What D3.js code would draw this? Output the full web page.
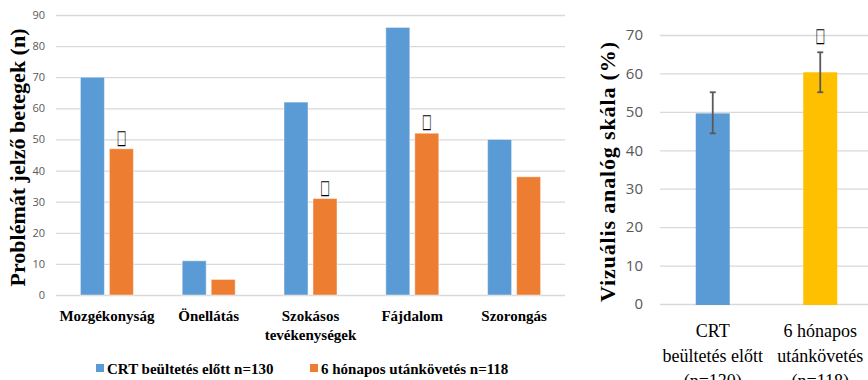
<!DOCTYPE html>
<html>
<head>
<meta charset="utf-8">
<script src="https://cdn.jsdelivr.net/npm/d3@7"></script>
<style>
  html, body { margin: 0; padding: 0; background: #fff; }
  svg { display: block; }
</style>
</head>
<body>
<svg id="chart" width="868" height="380"></svg>
<script>
// EQ-5D dimensions: patients reporting a problem, before CRT and at 6-month follow-up
const categories = ["Mozgékonyság", "Önellátás", "Szokásos\ntevékenységek", "Fájdalom", "Szorongás"];
const beforeCounts = [70, 11, 62, 86, 50];
const afterCounts = [47, 5, 31, 52, 38];
const significantChange = [true, false, true, true, false];
const countTicks = [0, 10, 20, 30, 40, 50, 60, 70, 80, 90];
const seriesNames = ["CRT beültetés előtt n=130", "6 hónapos utánkövetés n=118"];

// Visual analogue scale (mean with error bars)
const vasGroups = ["CRT\nbeültetés előtt\n(n=130)", "6 hónapos\nutánkövetés\n(n=118)"];
const vasMeans = [49.6, 60.3];
const vasLow = [44.4, 55.1];
const vasHigh = [55.1, 65.5];
const vasSignificant = [false, true];
const vasTicks = [0, 10, 20, 30, 40, 50, 60, 70];

const blue = "#5b9bd5", orange = "#ed7d31", yellow = "#ffc000";
const gridColor = "#d9d9d9", tickColor = "#595959";
const serif = "Liberation Serif, Times New Roman, DejaVu Serif, serif";
const sans = "Open Sans, Liberation Sans, sans-serif";
const marker = "\u25A1";

const svg = d3.select("#chart");

// significance marker: a hollow box glyph stretched into a tall rectangle
function drawMarker(parent, x, baseline) {
  parent.append("text")
    .attr("transform", `translate(${x},${baseline}) scale(0.72,1.4)`)
    .attr("text-anchor", "middle")
    .attr("font-family", "DejaVu Sans, sans-serif").attr("font-size", 14)
    .attr("fill", "#000")
    .text(marker);
}

// ---------- left panel: grouped bars ----------
const yL = d3.scaleLinear().domain([0, 90]).range([295, 15]);
const xL = d3.scaleBand().domain(categories).range([56, 565]);
const xSub = d3.scaleBand().domain([0, 1]).range([-26.5, 26.5]).paddingInner(0.172);

const gAxisL = svg.append("g").attr("transform", "translate(56,0)")
  .call(d3.axisLeft(yL).tickValues(countTicks).tickSize(-509).tickPadding(11));
gAxisL.select(".domain").remove();
gAxisL.selectAll(".tick line").attr("stroke", gridColor).attr("stroke-width", 1.3);
gAxisL.selectAll(".tick text").attr("fill", tickColor)
  .attr("font-family", sans).attr("font-size", 11);

const seriesL = [beforeCounts, afterCounts];
const colorsL = [blue, orange];
seriesL.forEach((vals, s) => {
  svg.append("g").selectAll("rect").data(categories).join("rect")
    .attr("x", (c) => xL(c) + xL.bandwidth() / 2 + xSub(s))
    .attr("y", (c, i) => yL(vals[i]))
    .attr("width", xSub.bandwidth())
    .attr("height", (c, i) => yL(0) - yL(vals[i]))
    .attr("fill", colorsL[s])
    .attr("stroke", "rgba(255,255,255,0.45)")
    .attr("stroke-width", 1);
});

const markersL = svg.append("g");
categories.forEach((c, i) => {
  if (!significantChange[i]) return;
  drawMarker(markersL, xL(c) + xL.bandwidth() / 2 + xSub(1) + xSub.bandwidth() / 2, yL(afterCounts[i]) - 5);
});

// category labels
const catLabels = svg.append("g").selectAll("text").data(categories).join("text")
  .attr("x", (c) => xL(c) + xL.bandwidth() / 2)
  .attr("y", 321)
  .attr("text-anchor", "middle")
  .attr("font-family", serif).attr("font-size", 15).attr("font-weight", "bold")
  .attr("fill", "#000");
catLabels.each(function (c) {
  const t = d3.select(this);
  c.split("\n").forEach((line, k) => {
    t.append("tspan").attr("x", xL(c) + xL.bandwidth() / 2).attr("dy", k === 0 ? 0 : 19).text(line);
  });
});

// y-axis title
svg.append("text")
  .attr("transform", "translate(25,157.5) rotate(-90)")
  .attr("text-anchor", "middle")
  .attr("font-family", serif).attr("font-size", 22).attr("font-weight", "bold")
  .attr("fill", "#000").text("Problémát jelző betegek (n)");

// legend
const legendX = [96, 310];
seriesNames.forEach((name, s) => {
  svg.append("rect").attr("x", legendX[s]).attr("y", 364).attr("width", 8).attr("height", 8)
    .attr("fill", colorsL[s]);
  svg.append("text").attr("x", legendX[s] + 11).attr("y", 373.5)
    .attr("font-family", serif).attr("font-size", 15).attr("font-weight", "bold")
    .attr("fill", "#000").text(name);
});

// ---------- right panel: visual analogue scale ----------
const yR = d3.scaleLinear().domain([0, 70]).range([304, 35]);
const xR = d3.scaleBand().domain(vasGroups).range([659, 874]);
const barW = 34;

const gAxisR = svg.append("g").attr("transform", "translate(660,0)")
  .call(d3.axisLeft(yR).tickValues(vasTicks).tickSize(-220).tickPadding(17));
gAxisR.select(".domain").remove();
gAxisR.selectAll(".tick line").attr("stroke", gridColor).attr("stroke-width", 1.3);
gAxisR.selectAll(".tick text").attr("fill", tickColor)
  .attr("font-family", sans).attr("font-size", 15);

const colorsR = [blue, yellow];
svg.append("g").selectAll("rect").data(vasGroups).join("rect")
  .attr("x", (g) => xR(g) + xR.bandwidth() / 2 - barW / 2)
  .attr("y", (g, i) => yR(vasMeans[i]))
  .attr("width", barW)
  .attr("height", (g, i) => yR(0) - yR(vasMeans[i]) + 1)
  .attr("fill", (g, i) => colorsR[i]);

// error bars
const eb = svg.append("g").attr("stroke", "#595959").attr("stroke-width", 1.8);
vasGroups.forEach((g, i) => {
  const cx = xR(g) + xR.bandwidth() / 2;
  eb.append("line").attr("x1", cx).attr("x2", cx).attr("y1", yR(vasLow[i])).attr("y2", yR(vasHigh[i]));
  eb.append("line").attr("x1", cx - 3).attr("x2", cx + 3).attr("y1", yR(vasLow[i])).attr("y2", yR(vasLow[i]));
  eb.append("line").attr("x1", cx - 3).attr("x2", cx + 3).attr("y1", yR(vasHigh[i])).attr("y2", yR(vasHigh[i]));
});

const markersR = svg.append("g");
vasGroups.forEach((g, i) => {
  if (!vasSignificant[i]) return;
  drawMarker(markersR, xR(g) + xR.bandwidth() / 2, 42);
});

const grpLabels = svg.append("g").selectAll("text").data(vasGroups).join("text")
  .attr("x", (g) => xR(g) + xR.bandwidth() / 2)
  .attr("y", 337)
  .attr("text-anchor", "middle")
  .attr("font-family", serif).attr("font-size", 18)
  .attr("fill", "#000");
grpLabels.each(function (g) {
  const t = d3.select(this);
  g.split("\n").forEach((line, k) => {
    t.append("tspan").attr("x", xR(g) + xR.bandwidth() / 2).attr("dy", k === 0 ? 0 : 25).text(line);
  });
});

svg.append("text")
  .attr("transform", "translate(615,172) rotate(-90)")
  .attr("text-anchor", "middle")
  .attr("font-family", serif).attr("font-size", 22).attr("font-weight", "bold")
  .attr("textLength", 260).attr("lengthAdjust", "spacing")
  .attr("fill", "#000").text("Vizuális analóg skála (%)");
</script>
</body>
</html>
